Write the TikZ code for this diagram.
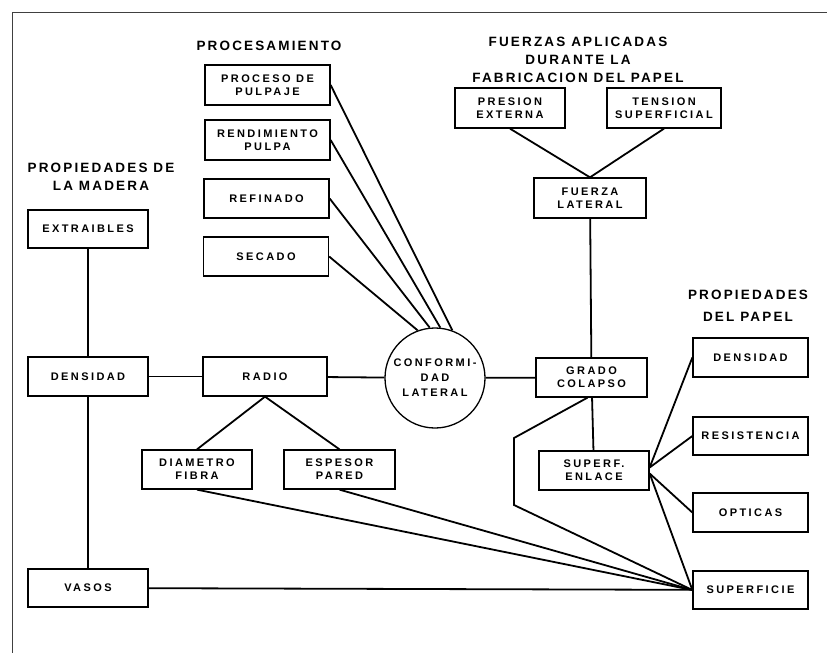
\documentclass[tikz,border=0pt]{standalone}
\usepackage{fontspec}
\usepackage{tikz}
\usetikzlibrary{positioning}
\newfontfamily\boxfont[LetterSpace=22]{Liberation Sans}
\newfontfamily\hdrfont[LetterSpace=16]{Liberation Sans}

\begin{document}
\begin{tikzpicture}[
  x=1pt, y=-1pt,
  box/.style={draw, line width=1.3pt, align=center, minimum width=125pt,
              minimum height=39pt, inner sep=1pt,
              font=\boxfont\bfseries\fontsize{11}{13}\selectfont},
  hdr/.style={align=center, font=\hdrfont\bfseries\fontsize{13.5}{18}\selectfont},
  conn/.style={line width=1.8pt}
]
\useasboundingbox (0,0) rectangle (827,653);
\draw[line width=0.8pt, black!75] (12,653) -- (12,12) -- (827,12);

\node[hdr] (hproc) at (269,46) {PROCESAMIENTO};
\node[hdr] (hmad) at (101,177) {PROPIEDADES DE\\LA MADERA};
\node[hdr] (hfuer) at (578,60) {FUERZAS APLICADAS\\DURANTE LA\\FABRICACION DEL PAPEL};
\node[hdr] (hpap) at (748,306) {PROPIEDADES\\[4pt]DEL PAPEL};

\node[box, minimum height=40pt] (pulpaje) at (267.5,85) {PROCESO DE\\PULPAJE};
\node[box, minimum height=40pt] (rendim) at (267.5,140) {RENDIMIENTO\\PULPA};
\node[box] (refinado) at (266.5,198.5) {REFINADO};
\node[box] (secado) at (266,256.5) {SECADO};

\node[box, minimum width=120pt, minimum height=38pt] (extra) at (88,229) {EXTRAIBLES};
\node[box, minimum width=120pt] (densmad) at (88,376.5) {DENSIDAD};
\node[box, minimum width=120pt, minimum height=38pt] (vasos) at (88,588) {VASOS};
\node[box, minimum width=124pt] (radio) at (265,376.5) {RADIO};
\node[box, minimum width=110pt] (diam) at (197,469.5) {DIAMETRO\\FIBRA};
\node[box, minimum width=111pt] (espesor) at (339.5,469.5) {ESPESOR\\PARED};
\node[box, circle, minimum size=100pt, minimum width=0pt] (conf) at (435,378)
  {CONFORMI-\\[2pt]DAD\\[2pt]LATERAL};

\node[box, minimum width=110pt, minimum height=40pt] (presion) at (510,108) {PRESION\\EXTERNA};
\node[box, minimum width=114pt, minimum height=40pt] (tension) at (664,108) {TENSION\\SUPERFICIAL};
\node[box, minimum width=112pt, minimum height=40pt] (fuerza) at (590,198) {FUERZA\\LATERAL};
\node[box, minimum width=111pt] (grado) at (591.5,377.5) {GRADO\\COLAPSO};
\node[box, minimum width=110pt] (enlace) at (594,470.5) {SUPERF.\\ENLACE};

\node[box, minimum width=115pt] (denspap) at (750.5,357.5) {DENSIDAD};
\node[box, minimum width=115pt, minimum height=38pt] (resist) at (750.5,436) {RESISTENCIA};
\node[box, minimum width=115pt] (optic) at (750.5,512.5) {OPTICAS};
\node[box, minimum width=115pt, minimum height=38pt] (superf) at (750.5,590) {SUPERFICIE};

\coordinate (kneeA) at (514,438);
\coordinate (kneeB) at (514,505);

\draw[conn] (pulpaje.east) -- (conf.70);
\draw[conn] (rendim.east) -- (conf.84);
\draw[conn] (refinado.east) -- (conf.96);
\draw[conn] (secado.east) -- (conf.110);
\draw[conn] (extra) -- (densmad);
\draw[conn] (densmad) -- (vasos);
\draw[conn] (densmad) -- (radio);
\draw[conn] (radio) -- (conf);
\draw[conn] (radio.south) -- (diam.north);
\draw[conn] (radio.south) -- (espesor.north);
\draw[conn] (conf) -- (grado);
\draw[conn] (presion.south) -- (fuerza.north);
\draw[conn] (tension.south) -- (fuerza.north);
\draw[conn] (fuerza) -- (grado);
\draw[conn] (grado) -- (enlace);
\draw[conn] ([xshift=-4pt]grado.south) -- (kneeA) -- (kneeB) -- (superf.west);
\draw[conn] (diam.south) -- (superf.west);
\draw[conn] (espesor.south) -- (superf.west);
\draw[conn] (vasos) -- (superf);
\draw[conn] ([yshift=3pt]enlace.east) -- (denspap.west);
\draw[conn] ([yshift=3pt]enlace.east) -- (resist.west);
\draw[conn] ([yshift=-3pt]enlace.east) -- (optic.west);
\draw[conn] ([yshift=-3pt]enlace.east) -- (superf.west);
\end{tikzpicture}
\end{document}
